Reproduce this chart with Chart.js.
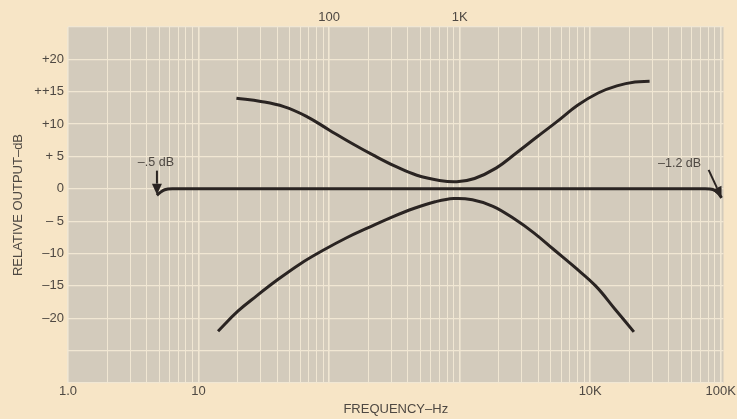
<!DOCTYPE html>
<html>
<head>
<meta charset="utf-8">
<script src="https://cdn.jsdelivr.net/npm/chart.js@4"></script>
<style>
  html, body { margin: 0; padding: 0; background: #f7e5c6; }
  #wrap { width: 737px; height: 419px; }
</style>
</head>
<body>
<div id="wrap"><canvas id="freqChart" width="737" height="419"></canvas></div>
<script>
// frequency (Hz) / relative output (dB)
const flatFreq = [4.8, 5.05, 5.5, 6.3, 10, 100, 1000, 10000, 75000, 87000, 95000, 101500];
const flatDb   = [-1.0, -0.6, -0.15, 0, 0, 0, 0, 0, 0, -0.1, -0.6, -1.4];

const boostFreq = [19.5, 30, 45, 67, 100, 150, 218, 320, 470, 700, 950, 1300, 1900, 2700, 3900, 5500, 8000, 11500, 16000, 22000, 28500];
const boostDb   = [14.0, 13.5, 12.7, 11.2, 9.1, 7.0, 5.2, 3.5, 2.1, 1.3, 1.1, 1.6, 3.2, 5.5, 8.0, 10.3, 12.9, 14.8, 15.9, 16.5, 16.6];

const cutFreq = [14.1, 20, 28, 40, 60, 90, 135, 200, 300, 450, 650, 900, 1250, 1800, 2600, 3700, 5200, 7500, 11000, 15500, 21600];
const cutDb   = [-22.0, -18.9, -16.5, -14.1, -11.6, -9.5, -7.6, -6.0, -4.4, -3.0, -2.0, -1.5, -1.7, -2.7, -4.6, -6.8, -9.3, -12.0, -15.0, -18.6, -22.1];

// axis ticks
const decades = [1, 10, 100, 1000, 10000, 100000];
const steps = [1, 2, 3, 4, 5, 6, 7, 8, 9];
const bottomLabels = { 1: '1.0', 10: '10', 10000: '10K', 100000: '100K' };
const topLabels = { 100: '100', 1000: '1K' };
const dbLabels = { 20: '+20', 15: '++15', 10: '+10', 5: '+ 5', 0: '0', '-5': '– 5', '-10': '–10', '-15': '–15', '-20': '–20' };

// callouts: label, tip (Hz, dB)
const notes = [
    { text: '–.5 dB', freq: 4.8, db: -0.9 },
    { text: '–1.2 dB', freq: 101500, db: -1.4 }
];

const gridFreqs = [];
decades.forEach(d => steps.forEach(s => { if (d * s <= 100000) gridFreqs.push(d * s); }));

const ink = '#2a2422';
const textCol = '#4e4842';
const gridCol = '#f1e7d3';

function toPoints(xs, ys) {
    return xs.map((x, i) => ({ x: x, y: ys[i] }));
}

const plotBg = {
    id: 'plotBg',
    beforeDraw(chart) {
        const a = chart.chartArea;
        const ctx = chart.ctx;
        ctx.save();
        ctx.fillStyle = '#d3cbbc';
        ctx.fillRect(a.left, a.top, a.right - a.left, a.bottom - a.top);
        ctx.restore();
    }
};

function arrow(ctx, x0, y0, x1, y1) {
    const ang = Math.atan2(y1 - y0, x1 - x0);
    const len = 11, half = 5;
    ctx.beginPath();
    ctx.moveTo(x0, y0);
    ctx.lineTo(x1 - Math.cos(ang) * len, y1 - Math.sin(ang) * len);
    ctx.stroke();
    ctx.beginPath();
    ctx.moveTo(x1, y1);
    ctx.lineTo(x1 - Math.cos(ang) * len - Math.sin(ang) * half, y1 - Math.sin(ang) * len + Math.cos(ang) * half);
    ctx.lineTo(x1 - Math.cos(ang) * len + Math.sin(ang) * half, y1 - Math.sin(ang) * len - Math.cos(ang) * half);
    ctx.closePath();
    ctx.fill();
}

const callouts = {
    id: 'callouts',
    afterDatasetsDraw(chart) {
        const ctx = chart.ctx;
        const xs = chart.scales.x, ys = chart.scales.y;
        ctx.save();
        ctx.strokeStyle = ink;
        ctx.fillStyle = ink;
        ctx.lineWidth = 2;
        ctx.font = '12.5px "Liberation Sans", Arial, sans-serif';
        ctx.textAlign = 'center';
        ctx.textBaseline = 'middle';
        notes.forEach((n, i) => {
            const px = xs.getPixelForValue(n.freq);
            const py = ys.getPixelForValue(n.db);
            if (i === 0) {
                arrow(ctx, px, py - 24, px, py);
                ctx.fillStyle = textCol;
                ctx.fillText(n.text, px - 1, py - 32);
            } else {
                arrow(ctx, px - 13, py - 28, px, py);
                ctx.fillStyle = textCol;
                ctx.fillText(n.text, px - 42, py - 34);
            }
            ctx.fillStyle = ink;
        });
        ctx.restore();
    }
};

const lineStyle = {
    borderColor: ink,
    borderWidth: 3,
    pointRadius: 0,
    fill: false,
    tension: 0.4
};

const font = { family: '"Liberation Sans", Arial, sans-serif', size: 13 };

new Chart(document.getElementById('freqChart'), {
    type: 'line',
    data: {
        datasets: [
            Object.assign({ label: 'flat', data: toPoints(flatFreq, flatDb) }, lineStyle, { tension: 0.3 }),
            Object.assign({ label: 'boost', data: toPoints(boostFreq, boostDb) }, lineStyle),
            Object.assign({ label: 'cut', data: toPoints(cutFreq, cutDb) }, lineStyle)
        ]
    },
    options: {
        responsive: false,
        animation: false,
        layout: { padding: { left: 0, right: 12, top: 0, bottom: 0 } },
        plugins: {
            legend: { display: false },
            tooltip: { enabled: false }
        },
        scales: {
            x: {
                type: 'logarithmic',
                position: 'bottom',
                min: 1,
                max: 105000,
                afterBuildTicks: s => { s.ticks = gridFreqs.map(v => ({ value: v })); },
                afterFit: s => { s.height = 36; },
                border: { display: false },
                grid: {
                    color: gridCol,
                    lineWidth: c => (decades.includes(c.tick.value) ? 1.6 : 1),
                    drawTicks: false
                },
                ticks: {
                    autoSkip: false,
                    maxRotation: 0,
                    padding: 1,
                    color: textCol,
                    font: font,
                    callback: v => bottomLabels[v] || ''
                },
                title: {
                    display: true,
                    text: 'FREQUENCY–Hz',
                    color: textCol,
                    font: font,
                    padding: { top: 0, bottom: 2 }
                }
            },
            x2: {
                type: 'logarithmic',
                position: 'top',
                min: 1,
                max: 105000,
                afterBuildTicks: s => { s.ticks = gridFreqs.map(v => ({ value: v })); },
                afterFit: s => { s.height = 27; },
                border: { display: false },
                grid: { display: false, drawTicks: false },
                ticks: {
                    autoSkip: false,
                    maxRotation: 0,
                    padding: 2,
                    color: textCol,
                    font: font,
                    callback: v => topLabels[v] || ''
                }
            },
            y: {
                min: -30,
                max: 25,
                afterFit: s => { s.width = 68; },
                border: { display: false },
                grid: { color: gridCol, lineWidth: 1.3, drawTicks: false },
                ticks: {
                    stepSize: 5,
                    padding: 4,
                    color: textCol,
                    font: font,
                    callback: v => dbLabels[v] || ''
                },
                title: {
                    display: true,
                    text: 'RELATIVE OUTPUT–dB',
                    color: textCol,
                    font: font,
                    padding: { top: 11, bottom: 0 }
                }
            }
        }
    },
    plugins: [plotBg, callouts]
});
</script>
</body>
</html>
